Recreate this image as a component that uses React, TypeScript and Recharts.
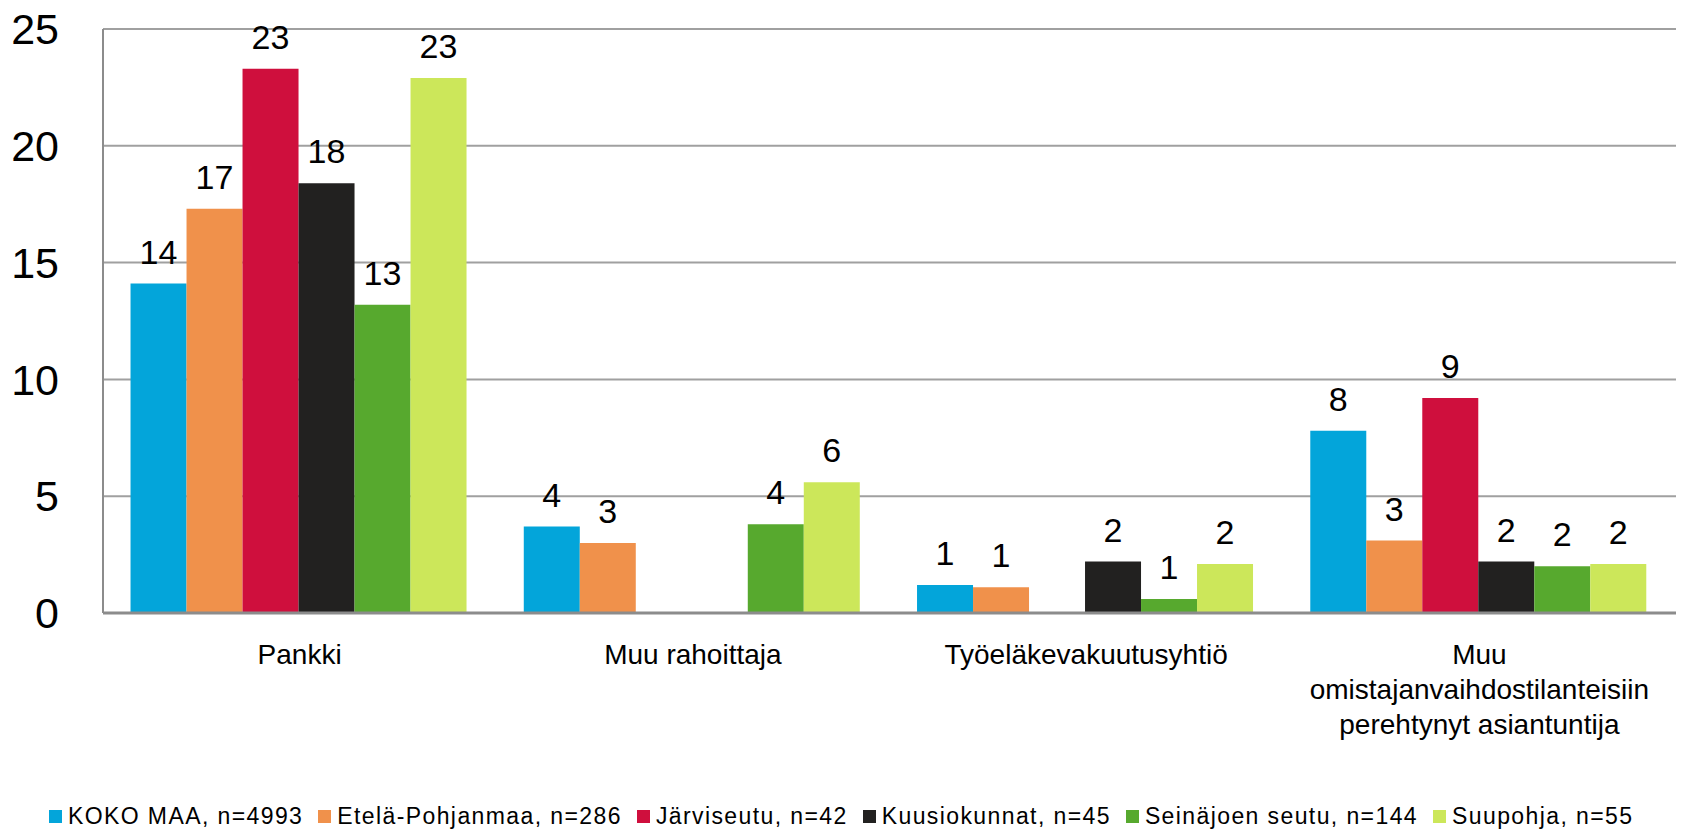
import React from 'react';
import { BarChart, Bar, XAxis, YAxis, CartesianGrid, Legend, LabelList } from 'recharts';

const FONT = '"Liberation Sans", Arial, sans-serif';

const categories = [
  'Pankki',
  'Muu rahoittaja',
  'Työeläkevakuutusyhtiö',
  'Muu omistajanvaihdostilanteisiin perehtynyt asiantuntija',
];
const categoryLines = [
  ['Pankki'],
  ['Muu rahoittaja'],
  ['Työeläkevakuutusyhtiö'],
  ['Muu', 'omistajanvaihdostilanteisiin', 'perehtynyt asiantuntija'],
];

const kokoMaa = [14.1, 3.7, 1.2, 7.8];
const etelaPohjanmaa = [17.3, 3.0, 1.1, 3.1];
const jarviseutu = [23.3, null, null, 9.2];
const kuusiokunnat = [18.4, null, 2.2, 2.2];
const seinajoenSeutu = [13.2, 3.8, 0.6, 2.0];
const suupohja = [22.9, 5.6, 2.1, 2.1];

const seriesNames = [
  'KOKO MAA, n=4993',
  'Etelä-Pohjanmaa, n=286',
  'Järviseutu, n=42',
  'Kuusiokunnat, n=45',
  'Seinäjoen seutu, n=144',
  'Suupohja, n=55',
];
const seriesValues = [kokoMaa, etelaPohjanmaa, jarviseutu, kuusiokunnat, seinajoenSeutu, suupohja];
const seriesColors = ['#03A5DA', '#F0914B', '#CF0F3D', '#222120', '#57A92E', '#CCE75A'];

const yTicks = [0, 5, 10, 15, 20, 25];

const data = categories.map((c, i) => {
  const row: any = { category: c };
  seriesValues.forEach((vals, s) => {
    row['s' + s] = vals[i];
  });
  return row;
});

const XTick = (props: any) => {
  const { x, y, payload } = props;
  const idx = categories.indexOf(payload.value);
  const lines = idx >= 0 ? categoryLines[idx] : [String(payload.value)];
  return (
    <text x={x} y={y} textAnchor="middle" fill="#000" fontSize={28} fontFamily={FONT}>
      {lines.map((l, i) => (
        <tspan key={i} x={x} dy={i === 0 ? 51 : 35}>
          {l}
        </tspan>
      ))}
    </text>
  );
};

const renderLabel = (props: any) => {
  const { x, y, width, value } = props;
  if (value == null || value === 0) return null;
  return (
    <text
      x={Number(x) + Number(width) / 2}
      y={Number(y) - 20}
      textAnchor="middle"
      fontSize={34}
      fontFamily={FONT}
      fill="#000"
    >
      {Math.round(Number(value))}
    </text>
  );
};

const LegendContent = () => (
  <div
    style={{
      height: 50,
      boxSizing: 'border-box',
      paddingTop: 24,
      paddingLeft: 49,
      display: 'flex',
      justifyContent: 'flex-start',
      fontFamily: FONT,
      fontSize: 23,
      letterSpacing: 1.4,
      lineHeight: '25px',
      color: '#000',
      whiteSpace: 'nowrap',
    }}
  >
    {seriesNames.map((n, i) => (
      <div key={i} style={{ display: 'flex', alignItems: 'center', marginRight: i < seriesNames.length - 1 ? 15 : 0 }}>
        <span style={{ display: 'inline-block', width: 13, height: 13, background: seriesColors[i], marginRight: 6 }} />
        <span>{n}</span>
      </div>
    ))}
  </div>
);

export default function App() {
  return (
    <div style={{ position: 'absolute', left: 0, top: 0, width: 1681, height: 829, background: '#fff' }}>
      <BarChart
        width={1681}
        height={829}
        data={data}
        margin={{ top: 29, right: 5, bottom: 0, left: 0 }}
        barCategoryGap="7%"
        barGap={0}
      >
        <CartesianGrid vertical={false} stroke="#A0A0A0" strokeWidth={2} />
        <XAxis
          dataKey="category"
          height={166}
          interval={0}
          tickLine={false}
          tickSize={0}
          tickMargin={0}
          axisLine={{ stroke: '#8C8C8C', strokeWidth: 3 }}
          tick={<XTick />}
        />
        <YAxis
          width={103}
          domain={[0, 25]}
          ticks={yTicks}
          interval={0}
          tickLine={false}
          tickSize={0}
          tickMargin={44}
          axisLine={{ stroke: '#8C8C8C', strokeWidth: 2 }}
          tick={{ fontSize: 43, fontFamily: FONT, fill: '#000' }}
        />
        <Legend verticalAlign="bottom" content={<LegendContent />} />
        {seriesNames.map((n, i) => (
          <Bar key={i} dataKey={'s' + i} name={n} fill={seriesColors[i]} isAnimationActive={false}>
            <LabelList dataKey={'s' + i} content={renderLabel} />
          </Bar>
        ))}
      </BarChart>
    </div>
  );
}
